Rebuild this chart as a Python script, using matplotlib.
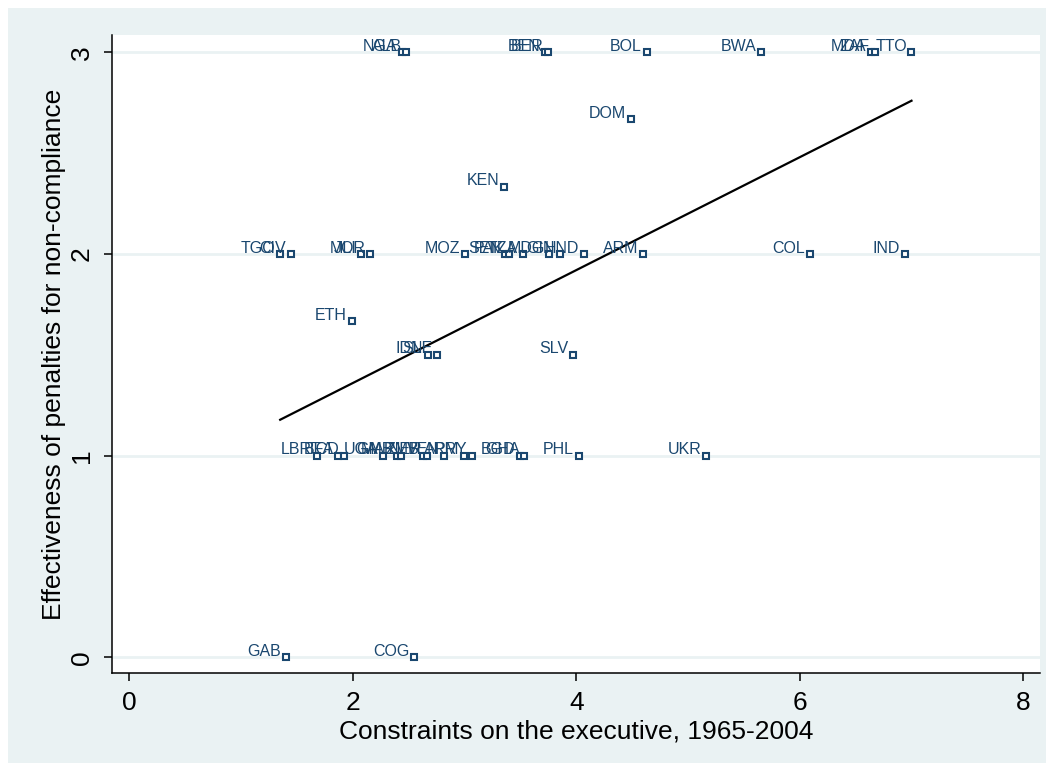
import matplotlib.pyplot as plt
from matplotlib.patches import Rectangle

plt.rcParams["font.family"] = ["Liberation Sans", "DejaVu Sans"]

# Data
countries = [
    "NGA", "ALB", "BEN", "BER", "BOL", "BWA", "MDA", "ZAF", "TTO",
    "DOM", "KEN",
    "TGO", "CIV", "MLI", "JOR", "MOZ", "SEN", "PAK", "TZA", "MDG", "GIN",
    "HND", "ARM", "COL", "IND",
    "ETH", "IDN", "SLE", "SLV",
    "LBR", "BFA", "TCD", "UGA", "GMB", "MAR", "ZMB", "NER", "VEN", "ARM",
    "PRY", "BGD", "GHA", "PHL", "UKR",
    "GAB", "COG",
]
xconst = [
    2.44, 2.48, 3.72, 3.75, 4.63, 5.65, 6.64, 6.67, 7.00,
    4.49, 3.35,
    1.35, 1.445, 2.07, 2.155, 3.00, 3.363, 3.40, 3.52, 3.76, 3.85,
    4.07, 4.60, 6.09, 6.94,
    1.99, 2.67, 2.75, 3.97,
    1.678, 1.871, 1.922, 2.274, 2.399, 2.43, 2.632, 2.662, 2.817, 2.996,
    3.07, 3.498, 3.534, 4.02, 5.163,
    1.40, 2.55,
]
penalty = [
    3, 3, 3, 3, 3, 3, 3, 3, 3,
    2.667, 2.333,
    2, 2, 2, 2, 2, 2, 2, 2, 2, 2,
    2, 2, 2, 2,
    1.667, 1.5, 1.5, 1.5,
    1, 1, 1, 1, 1, 1, 1, 1, 1, 1,
    1, 1, 1, 1, 1,
    0, 0,
]
# linear fit shown in the figure
fit_intercept = 0.80
fit_slope = 0.28

navy = "#1a476f"
bg = "#eaf2f3"

fig = plt.figure(figsize=(10.54, 7.71), dpi=100)
fig.patch.set_facecolor("white")
fig.patches.append(Rectangle((8 / 1054, 8 / 771), 1038 / 1054, 755 / 771,
                             transform=fig.transFigure, facecolor=bg,
                             edgecolor="none", zorder=-10))

ax = fig.add_axes([112 / 1054, 1 - 673 / 771, 928 / 1054, 638 / 771])
ax.set_facecolor("white")

ax.plot(xconst, penalty, linestyle="none", marker="s", markersize=3.8,
        markerfacecolor="white", markeredgecolor=navy, markeredgewidth=1.5,
        zorder=3)
for name, xv, yv in zip(countries, xconst, penalty):
    ax.annotate(name, (xv, yv), xytext=(-3.3, 1.0), textcoords="offset points",
                ha="right", va="baseline", fontsize=11.5, color=navy, zorder=4)

xfit = [min(xconst), max(xconst)]
yfit = [fit_intercept + fit_slope * v for v in xfit]
ax.plot(xfit, yfit, color="black", linewidth=1.6, zorder=2)

ax.set_xlim(-0.155, 8.15)
ax.set_ylim(-0.078, 3.086)
ax.set_xticks([0, 2, 4, 6, 8])
ax.set_yticks([0, 1, 2, 3])
ax.grid(True, axis="y", color=bg, linewidth=2)
ax.set_axisbelow(True)
for side in ["top", "right"]:
    ax.spines[side].set_visible(False)
for side in ["left", "bottom"]:
    ax.spines[side].set_linewidth(1.1)
ax.tick_params(axis="both", direction="out", length=6, width=1.1,
               labelsize=19, pad=7)
for lab in ax.get_yticklabels():
    lab.set_rotation(90)
    lab.set_va("center")

ax.set_xlabel("Constraints on the executive, 1965-2004", fontsize=19,
              labelpad=3)
ax.set_ylabel("Effectiveness of penalties for non-compliance", fontsize=19,
              labelpad=3)

fig.savefig("out.png", dpi=100)
